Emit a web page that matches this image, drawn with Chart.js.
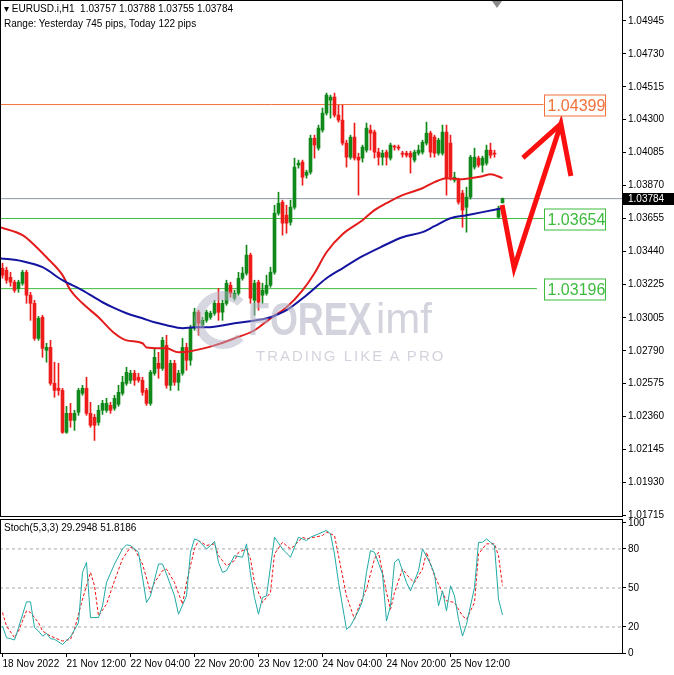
<!DOCTYPE html>
<html>
<head>
<meta charset="utf-8">
<script src="https://cdn.jsdelivr.net/npm/chart.js@4.4.0/dist/chart.umd.min.js"></script>
<style>
  body { margin: 0; background: #fff; }
  #wrap { position: relative; width: 674px; height: 675px; overflow: hidden; background: #fff;
          font-family: "Liberation Sans", Arial, sans-serif; color: #000; }
  .abs { position: absolute; }
  .txt { font-size: 10px; white-space: pre; line-height: 12px; }
  .wm { color: rgba(175, 175, 195, 0.55); white-space: pre; line-height: 1; pointer-events: none; }
</style>
</head>
<body>
<div id="wrap">
  <canvas id="priceChart" class="abs" style="left:0;top:0;width:674px;height:518px" width="674" height="518"></canvas>
  <canvas id="stochChart" class="abs" style="left:0;top:517px;width:674px;height:158px" width="674" height="158"></canvas>

  <!-- watermark -->
  <div class="abs" style="left:194px;top:291px;width:40px;height:40px;border:9px solid rgba(175,175,195,0.5);border-radius:50%;border-right-color:transparent"></div>
  <div class="abs wm" style="left:248px;top:296px;font-size:46px;font-weight:bold;transform:scaleX(0.78);transform-origin:left top">FOREX</div>
  <div class="abs wm" style="left:376px;top:298px;font-size:42px">imf</div>
  <div class="abs wm" style="left:256px;top:348px;font-size:15px;letter-spacing:2px">TRADING LIKE A PRO</div>

  <div id="hdr1" class="abs txt" style="left:4px;top:3px"></div>
  <div class="abs txt" style="left:4px;top:18px">Range: Yesterday 745 pips, Today 122 pips</div>
  <div id="stochLabel" class="abs txt" style="left:4px;top:522px"></div>
  <div class="abs" style="left:492px;top:1px;width:0;height:0;border-left:5px solid transparent;border-right:5px solid transparent;border-top:7px solid #8a8a8a"></div>
</div>

<script>
// EURUSD H1, one value per bar (bar 0 = 18 Nov 20:00)
const opens = [
  1.03329, 1.03316, 1.03270, 1.03238, 1.03198, 1.03231, 1.03303, 1.03153, 1.03100, 1.02871,
  1.03009, 1.02793, 1.02812, 1.02577, 1.02545, 1.02531, 1.02257, 1.02381, 1.02335, 1.02388,
  1.02512, 1.02545, 1.02381, 1.02355, 1.02322, 1.02401, 1.02401, 1.02433, 1.02414, 1.02440,
  1.02512, 1.02577, 1.02597, 1.02643, 1.02617, 1.02597, 1.02531, 1.02446, 1.02643, 1.02708,
  1.02675, 1.02825, 1.02564, 1.02708, 1.02584, 1.02643, 1.02812, 1.02728, 1.02937, 1.03042,
  1.02957, 1.02989, 1.03009, 1.03035, 1.03100, 1.03042, 1.03100, 1.03218, 1.03133, 1.03166,
  1.03264, 1.03297, 1.03415, 1.03120, 1.03238, 1.03153, 1.03166, 1.03218, 1.03303, 1.03689,
  1.03761, 1.03676, 1.03630, 1.03728, 1.04003, 1.04023, 1.03937, 1.03957, 1.04179, 1.04114,
  1.04232, 1.04343, 1.04428, 1.04448, 1.04330, 1.04297, 1.04147, 1.04055, 1.04186, 1.04055,
  1.04049, 1.04101, 1.04232, 1.04219, 1.04088, 1.04055, 1.04088, 1.04049, 1.04127, 1.04121,
  1.04081, 1.04081, 1.04081, 1.04036, 1.04081, 1.04088, 1.04147, 1.04212, 1.04186, 1.04081,
  1.04081, 1.04219, 1.04147, 1.03905, 1.03905, 1.03820, 1.03728, 1.03794, 1.03990, 1.04049,
  1.04003, 1.04016, 1.04101, 1.04081, 1.03663, 1.03757
];
const highs = [
  1.03362, 1.03336, 1.03303, 1.03251, 1.03251, 1.03316, 1.03316, 1.03172, 1.03120, 1.03015,
  1.03022, 1.02839, 1.02858, 1.02715, 1.02708, 1.02545, 1.02427, 1.02446, 1.02401, 1.02545,
  1.02564, 1.02617, 1.02453, 1.02374, 1.02433, 1.02466, 1.02479, 1.02453, 1.02499, 1.02564,
  1.02623, 1.02682, 1.02662, 1.02662, 1.02643, 1.02617, 1.02545, 1.02662, 1.02806, 1.02780,
  1.02878, 1.02891, 1.02728, 1.02728, 1.02662, 1.02871, 1.02839, 1.02957, 1.03068, 1.03055,
  1.03009, 1.03055, 1.03048, 1.03120, 1.03198, 1.03120, 1.03251, 1.03238, 1.03185, 1.03303,
  1.03336, 1.03480, 1.03428, 1.03251, 1.03251, 1.03231, 1.03284, 1.03336, 1.03741, 1.03826,
  1.03774, 1.03741, 1.03774, 1.04049, 1.04036, 1.04036, 1.03970, 1.04199, 1.04199, 1.04265,
  1.04376, 1.04474, 1.04461, 1.04474, 1.04395, 1.04395, 1.04166, 1.04199, 1.04278, 1.04081,
  1.04134, 1.04278, 1.04265, 1.04232, 1.04114, 1.04101, 1.04101, 1.04147, 1.04134, 1.04134,
  1.04094, 1.04094, 1.04094, 1.04101, 1.04134, 1.04166, 1.04284, 1.04225, 1.04199, 1.04179,
  1.04265, 1.04265, 1.04199, 1.03957, 1.03918, 1.03839, 1.03859, 1.04068, 1.04114, 1.04062,
  1.04062, 1.04134, 1.04147, 1.04101, 1.03735, 1.03788
];
const lows = [
  1.03264, 1.03231, 1.03212, 1.03172, 1.03172, 1.03218, 1.03100, 1.02989, 1.02858, 1.02858,
  1.02747, 1.02715, 1.02564, 1.02486, 1.02499, 1.02250, 1.02250, 1.02290, 1.02270, 1.02368,
  1.02499, 1.02368, 1.02290, 1.02204, 1.02303, 1.02374, 1.02388, 1.02381, 1.02401, 1.02427,
  1.02499, 1.02564, 1.02577, 1.02564, 1.02584, 1.02499, 1.02433, 1.02433, 1.02630, 1.02610,
  1.02662, 1.02545, 1.02531, 1.02564, 1.02531, 1.02630, 1.02662, 1.02695, 1.02924, 1.02891,
  1.02943, 1.02976, 1.02996, 1.03022, 1.02989, 1.02989, 1.03087, 1.03140, 1.03120, 1.03153,
  1.03251, 1.03284, 1.03100, 1.03022, 1.03055, 1.03100, 1.03153, 1.03205, 1.03290, 1.03676,
  1.03545, 1.03558, 1.03611, 1.03715, 1.03983, 1.03872, 1.03918, 1.03944, 1.04049, 1.04101,
  1.04219, 1.04330, 1.04310, 1.04317, 1.04284, 1.04134, 1.03990, 1.04042, 1.04036, 1.03807,
  1.04023, 1.04088, 1.04101, 1.04049, 1.04003, 1.04003, 1.04003, 1.04036, 1.04101, 1.04101,
  1.04055, 1.04055, 1.03951, 1.04023, 1.04068, 1.04075, 1.04134, 1.04055, 1.04055, 1.04068,
  1.04068, 1.03807, 1.03905, 1.03892, 1.03748, 1.03597, 1.03565, 1.03781, 1.03977, 1.03990,
  1.03957, 1.04003, 1.04049, 1.04055, 1.03656, 1.03755
];
const closes = [
  1.03284, 1.03251, 1.03238, 1.03185, 1.03238, 1.03303, 1.03153, 1.03100, 1.02871, 1.03002,
  1.02806, 1.02812, 1.02577, 1.02531, 1.02531, 1.02257, 1.02381, 1.02335, 1.02381, 1.02531,
  1.02545, 1.02381, 1.02303, 1.02303, 1.02401, 1.02446, 1.02446, 1.02401, 1.02479, 1.02518,
  1.02584, 1.02649, 1.02643, 1.02597, 1.02597, 1.02518, 1.02446, 1.02649, 1.02747, 1.02675,
  1.02858, 1.02564, 1.02708, 1.02584, 1.02643, 1.02812, 1.02728, 1.02937, 1.03042, 1.02970,
  1.02989, 1.03042, 1.03035, 1.03100, 1.03042, 1.03100, 1.03231, 1.03166, 1.03166, 1.03264,
  1.03297, 1.03415, 1.03133, 1.03231, 1.03107, 1.03185, 1.03218, 1.03303, 1.03689, 1.03754,
  1.03624, 1.03624, 1.03728, 1.03990, 1.04016, 1.03924, 1.03957, 1.04179, 1.04134, 1.04245,
  1.04343, 1.04461, 1.04448, 1.04330, 1.04297, 1.04147, 1.04055, 1.04186, 1.04049, 1.04036,
  1.04121, 1.04245, 1.04212, 1.04088, 1.04055, 1.04081, 1.04055, 1.04134, 1.04121, 1.04114,
  1.04075, 1.04068, 1.04055, 1.04088, 1.04101, 1.04153, 1.04212, 1.04088, 1.04081, 1.04166,
  1.04219, 1.03918, 1.03924, 1.03924, 1.03761, 1.03709, 1.03794, 1.04055, 1.04055, 1.04003,
  1.04049, 1.04101, 1.04068, 1.04075, 1.03722, 1.03784
];

// moving averages, read at a few bars
const redMaBars = [-0.625, 5, 8, 11, 15, 17, 20, 24, 28, 31, 35, 36, 41, 44, 47, 53, 58, 63, 67, 71,
  75, 78, 81, 85, 90, 93, 96, 100, 105, 108, 111, 115, 117, 120, 122, 125];
const redMaVals = [1.03597, 1.03545, 1.03480, 1.03401, 1.03284, 1.03185, 1.03100, 1.03009, 1.02904, 1.02858,
  1.02839, 1.02812, 1.02806, 1.02780, 1.02787, 1.02825, 1.02871, 1.02924, 1.03002, 1.03074,
  1.03185, 1.03297, 1.03434, 1.03552, 1.03643, 1.03709, 1.03754, 1.03807, 1.03852, 1.03892,
  1.03918, 1.03911, 1.03918, 1.03931, 1.03944, 1.03918];
const blueMaBars = [-0.625, 5, 10, 15, 20, 25, 28, 31, 35, 38, 41, 45, 48, 51, 58, 65, 67, 71, 76, 81,
  85, 90, 95, 100, 105, 108, 112, 116, 120, 125];
const blueMaVals = [1.03395, 1.03375, 1.03336, 1.03251, 1.03185, 1.03107, 1.03068, 1.03035, 1.03002, 1.02976,
  1.02957, 1.02937, 1.02943, 1.02943, 1.02970, 1.02996, 1.03009, 1.03055, 1.03153, 1.03264,
  1.03329, 1.03408, 1.03473, 1.03532, 1.03565, 1.03604, 1.03656, 1.03676, 1.03696, 1.03722];

// Stochastic (5,3,3)
const stochMainBars = [0, 1, 2, 3, 4, 6, 7, 8, 9, 10, 11, 12, 13, 15, 17, 19, 20, 21, 22, 24, 25, 26, 28, 30, 31,
  32, 34, 36, 37, 39, 40, 41, 43, 44, 46, 47, 48, 49, 51, 52, 53, 54, 55, 56, 58, 60, 61, 62, 63, 64,
  65, 66, 68, 70, 72, 74, 75, 76, 77, 79, 81, 82, 83, 84, 86, 87, 89, 90, 91, 92, 93, 95, 96, 97, 98,
  99, 101, 102, 104, 105, 107, 108, 109, 110, 111, 112, 113, 114, 115, 116, 118, 119, 120, 121, 122, 123, 124, 125];
const stochMainVals = [20.8, 11.8, 11.0, 10.0, 19.5, 39.3, 39.3, 19.5, 16.9, 13.0, 15.1, 11.0, 10.5, 6.6, 12.5,
  23.3, 62, 69.7, 27.2, 27.2, 36.2, 54.2, 68.4, 80, 83.1, 82.6, 77.4, 38.8, 43.9, 68.4,
  68.4, 60.7, 43.9, 29.8, 43.9, 77.4, 87.7, 86.4, 80, 82.6, 85.7, 69.7, 62, 63.3, 74.8,
  73.6, 83.9, 60.7, 42.7, 29.8, 42.7, 43.9, 89, 80, 73.6, 89, 87.7, 86.4, 89, 91.6,
  94.2, 91.6, 76.1, 54.2, 18.2, 20.8, 32.4, 40.1, 62, 78.7, 77.4, 60.7, 24.6, 36.2, 69.7,
  72.3, 54.2, 47.8, 63.3, 80, 68.4, 60.7, 36.2, 47.8, 32.4, 51.7, 43.9, 25.9, 13, 22.1,
  50.4, 85.1, 85.1, 87.7, 85.1, 82.6, 41.4, 29.2948];
const stochSignalBars = [0, 1, 3, 4, 6, 7, 9, 10, 12, 15, 17, 18, 20, 22, 23, 24, 26, 28, 30, 32, 33, 35, 37, 38,
  40, 41, 43, 45, 46, 48, 49, 51, 53, 54, 56, 58, 59, 61, 62, 63, 65, 67, 68, 70, 72, 73, 75, 76, 78,
  80, 81, 83, 84, 86, 88, 89, 91, 93, 94, 96, 97, 98, 100, 102, 103, 105, 106, 108, 110, 111, 113,
  115, 116, 118, 119, 121, 123, 124, 125];
const stochSignalVals = [31.1, 20.8, 11.8, 16.9, 32.4, 31.1, 23.3, 16.9, 13, 9.2, 10.5, 18.2, 41.4, 62, 51.7,
  28.5, 37.5, 55.5, 72.3, 81.3, 80, 68.4, 46.5, 54.2, 63.3, 64.5, 54.2, 37.5, 54.2, 80,
  86.4, 82.6, 83.9, 74.8, 67.1, 71, 77.4, 80, 72.3, 54.2, 38.8, 46.5, 76.1, 85.1, 80,
  82.6, 89, 87.7, 89, 90.3, 92.9, 90.3, 74.8, 43.9, 25.9, 34.9, 49.1, 72.3, 77.4, 46.5,
  33.6, 46.5, 64.5, 56.8, 54.2, 64.5, 77.4, 59.4, 46.5, 40.1, 38.8, 28.5, 25.9, 38.8, 76.1,
  83.9, 83.9, 74.8, 51.8186];
const stochLevels = [20, 50, 80];

// horizontal levels drawn by hand on the chart, and the current price
const levelValues = [1.04399, 1.03654, 1.03196];
const lastPrice = 1.03784;

// the hand drawn arrow (bar, price)
const arrowShaftBars = [124.9, 127.9, 139.6, 142.1];
const arrowShaftVals = [1.03743, 1.03331, 1.04272, 1.03932];
const arrowHeadBars = [130.1, 139.6];
const arrowHeadVals = [1.04050, 1.04272];

// axis labels
const priceTicks = ["1.04945", "1.04730", "1.04515", "1.04300", "1.04085", "1.03870", "1.03655", "1.03440",
  "1.03225", "1.03005", "1.02790", "1.02575", "1.02360", "1.02145", "1.01930", "1.01715"];
const stochTicks = [0, 20, 50, 80, 100];
const timeTickBars = [0, 16, 32, 48, 64, 80, 96, 112];
const timeTickLabels = ["18 Nov 2022", "21 Nov 12:00", "22 Nov 04:00", "22 Nov 20:00",
  "23 Nov 12:00", "24 Nov 04:00", "24 Nov 20:00", "25 Nov 12:00"];

// ---- styling ----
const UP = "#10881a";
const DOWN = "#ee1b1b";
const X_MIN = -0.625;
const X_MAX = 154.875;
const AXIS_FONT = { family: "Liberation Sans", size: 10 };
const levelColors = ["#f2713a", "#3dbb3d", "#3dbb3d"];
const levelEnds = [135.25, 135.25, 133.6];

const n = closes.length - 1;
document.getElementById("hdr1").textContent = "\u25BE EURUSD.i,H1  " +
  [opens[n], highs[n], lows[n], closes[n]].map(v => v.toFixed(5)).join(" ");
document.getElementById("stochLabel").textContent = "Stoch(5,3,3) " +
  stochMainVals[stochMainVals.length - 1].toFixed(4) + " " +
  stochSignalVals[stochSignalVals.length - 1].toFixed(4);

const pts = (xs, ys) => xs.map((x, i) => ({ x: x, y: ys[i] }));
const candleColor = ctx => closes[ctx.dataIndex] >= opens[ctx.dataIndex] ? UP : DOWN;

// keep the plot area where MT4 has it: no label padding
function noPad(s) {
  s.paddingTop = 0;
  s.paddingBottom = 0;
  s.paddingLeft = 0;
  s.paddingRight = 0;
}

// Frame, level boxes and price box
const mainDecor = {
  id: "mainDecor",
  afterDatasetsDraw(chart) {
    const { ctx, scales: { x, y } } = chart;
    ctx.save();
    ctx.font = '16px "Liberation Sans"';
    ctx.textBaseline = "middle";
    levelValues.forEach((v, i) => {
      const px = Math.round(x.getPixelForValue(levelEnds[0])) + 0.5;
      const py = Math.round(y.getPixelForValue(v)) + 0.5;
      ctx.fillStyle = "#fff";
      ctx.fillRect(px, py - 10.5, 61, 21);
      ctx.strokeStyle = levelColors[i];
      ctx.lineWidth = 1;
      ctx.strokeRect(px, py - 10.5, 61, 21);
      ctx.fillStyle = levelColors[i];
      ctx.fillText(v.toFixed(5), px + 3, py + 1);
    });
    ctx.restore();
  },
  afterDraw(chart) {
    const { ctx, chartArea: a, scales: { y } } = chart;
    ctx.save();
    ctx.strokeStyle = "#000";
    ctx.lineWidth = 1;
    ctx.strokeRect(0.5, a.top - 0.5, a.right, a.bottom - a.top + 1);
    const py = Math.round(y.getPixelForValue(lastPrice));
    ctx.fillStyle = "#000";
    ctx.fillRect(a.right + 1, py - 6, 52, 12);
    ctx.fillStyle = "#fff";
    ctx.font = '10px "Liberation Sans"';
    ctx.textBaseline = "middle";
    ctx.fillText(lastPrice.toFixed(5), a.right + 6, py + 0.5);
    ctx.restore();
  }
};

const stochFrame = {
  id: "stochFrame",
  afterDraw(chart) {
    const { ctx, chartArea: a } = chart;
    ctx.save();
    ctx.strokeStyle = "#000";
    ctx.lineWidth = 1;
    ctx.strokeRect(0.5, a.top + 0.5, a.right, a.bottom - a.top);
    ctx.restore();
  }
};

const flatLine = (v, end, color, extra) => Object.assign({
  type: "line",
  data: [{ x: X_MIN, y: v }, { x: end, y: v }],
  borderColor: color,
  borderWidth: 1,
  pointRadius: 0,
  order: 9
}, extra || {});

const lineSet = (xs, ys, color, width, order) => ({
  type: "line",
  data: pts(xs, ys),
  borderColor: color,
  borderWidth: width,
  pointRadius: 0,
  cubicInterpolationMode: "monotone",
  order: order
});

new Chart(document.getElementById("priceChart"), {
  type: "bar",
  data: {
    datasets: [
      flatLine(lastPrice, X_MAX, "#8f979f"),
      ...levelValues.map((v, i) => flatLine(v, levelEnds[i], levelColors[i])),
      {
        data: opens.map((o, i) => ({ x: i, y: [lows[i], highs[i]] })),
        backgroundColor: candleColor,
        barThickness: 1,
        grouped: false,
        order: 6
      },
      {
        data: opens.map((o, i) => ({ x: i, y: [o, closes[i]] })),
        backgroundColor: candleColor,
        barThickness: 3,
        minBarLength: 1,
        grouped: false,
        order: 5
      },
      lineSet(redMaBars, redMaVals, "#e41b1b", 2, 4),
      lineSet(blueMaBars, blueMaVals, "#1414a0", 2, 3),
      Object.assign(lineSet(arrowShaftBars, arrowShaftVals, "#fb1010", 5, 1),
        { cubicInterpolationMode: "default", tension: 0, borderJoinStyle: "miter" }),
      Object.assign(lineSet(arrowHeadBars, arrowHeadVals, "#fb1010", 5, 1),
        { cubicInterpolationMode: "default", tension: 0 })
    ]
  },
  options: {
    responsive: false,
    animation: false,
    devicePixelRatio: 1,
    layout: { autoPadding: false, padding: { top: 1, bottom: 2, left: 0, right: 0 } },
    plugins: { legend: { display: false }, tooltip: { enabled: false } },
    scales: {
      x: {
        type: "linear", min: X_MIN, max: X_MAX, offset: false,
        display: true,
        afterFit(s) { s.height = 0; noPad(s); },
        ticks: { display: false },
        grid: { display: false },
        border: { display: false }
      },
      y: {
        position: "right",
        min: 1.017101,
        max: 1.050757,
        afterFit(s) { s.width = 52; noPad(s); },
        afterBuildTicks(s) { s.ticks = priceTicks.map(t => ({ value: parseFloat(t) })); },
        ticks: {
          callback: (v, i) => priceTicks[i],
          autoSkip: false,
          color: "#000",
          font: AXIS_FONT,
          padding: 2
        },
        grid: { drawOnChartArea: false, drawTicks: true, tickLength: 4, tickColor: "#000" },
        border: { display: false }
      }
    }
  },
  plugins: [mainDecor]
});

new Chart(document.getElementById("stochChart"), {
  type: "line",
  data: {
    datasets: [
      ...stochLevels.map(v => flatLine(v, X_MAX, "#a8a8a8", { borderDash: [3, 3] })),
      {
        data: pts(stochSignalBars, stochSignalVals),
        borderColor: "#f01010",
        borderWidth: 1,
        borderDash: [3, 2],
        pointRadius: 0,
        order: 2
      },
      {
        data: pts(stochMainBars, stochMainVals),
        borderColor: "#20aaa5",
        borderWidth: 1,
        pointRadius: 0,
        order: 1
      }
    ]
  },
  options: {
    responsive: false,
    animation: false,
    devicePixelRatio: 1,
    layout: { autoPadding: false, padding: { top: 2, bottom: 0, left: 0, right: 0 } },
    plugins: { legend: { display: false }, tooltip: { enabled: false } },
    scales: {
      x: {
        type: "linear",
        min: X_MIN,
        max: X_MAX,
        afterFit(s) { s.height = 22; noPad(s); },
        afterBuildTicks(s) { s.ticks = timeTickBars.map(v => ({ value: v })); },
        ticks: {
          callback: (v, i) => timeTickLabels[i],
          align: "start",
          autoSkip: false,
          maxRotation: 0,
          color: "#000",
          font: AXIS_FONT,
          padding: 1
        },
        grid: { drawOnChartArea: false, drawTicks: true, tickLength: 4, tickColor: "#000" },
        border: { display: false }
      },
      y: {
        position: "right",
        min: 0,
        max: 103,
        afterFit(s) { s.width = 52; noPad(s); },
        afterBuildTicks(s) { s.ticks = stochTicks.map(v => ({ value: v })); },
        ticks: { autoSkip: false, color: "#000", font: AXIS_FONT, padding: 2 },
        grid: { drawOnChartArea: false, drawTicks: true, tickLength: 4, tickColor: "#000" },
        border: { display: false }
      }
    }
  },
  plugins: [stochFrame]
});
</script>
</body>
</html>
